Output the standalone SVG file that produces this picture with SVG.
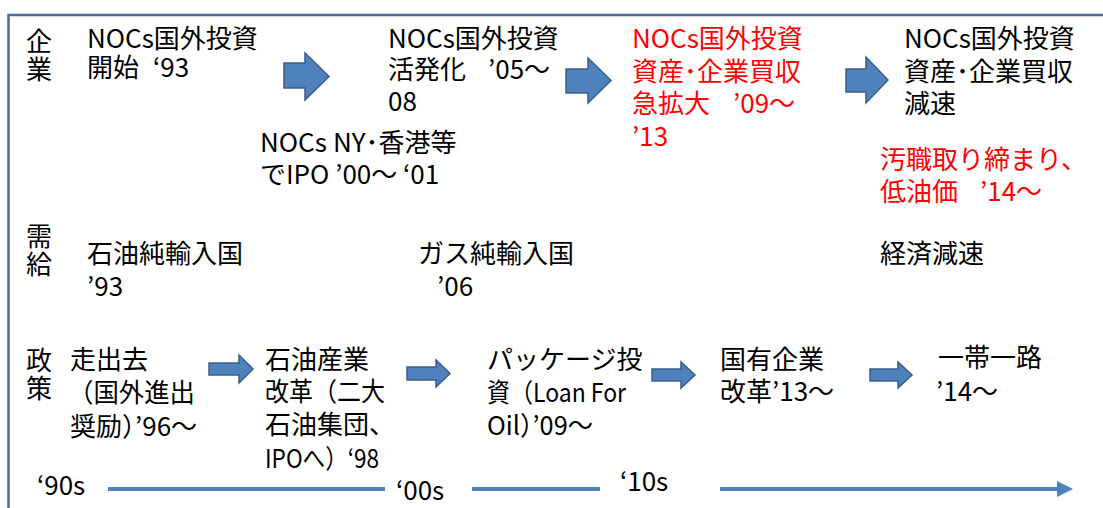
<svg xmlns="http://www.w3.org/2000/svg" width="1103" height="508" viewBox="0 0 1103 508">
<style>
text{font-family:"Noto Sans CJK JP","Noto Sans CJK SC",sans-serif;font-size:26px;fill:#000}
text.red{fill:#ff0000}
text.vert{writing-mode:vertical-rl;letter-spacing:2px}
.big{fill:#4f81bd;stroke:#385d8a;stroke-width:1.5}
.tl{stroke:#4f81bd;stroke-width:4;fill:none}
</style>
<defs>
<marker id="ah" markerWidth="4" markerHeight="4" refX="0" refY="2" orient="auto" markerUnits="strokeWidth">
<path d="M0,0 L4,2 L0,4 Z" fill="#4f81bd"/>
</marker>
</defs>
<rect x="8.5" y="15" width="1120" height="600" fill="none" stroke="#4a6b9a" stroke-width="2.5"/>

<g id="label-kigyo"><text class="vert" x="39" y="28">企業</text></g>
<g id="label-jukyu"><text class="vert" x="39" y="223">需給</text></g>
<g id="label-seisaku"><text class="vert" x="39" y="347">政策</text></g>

<g id="n1"><text x="87" y="48">NOCs国外投資<tspan x="87" dy="29">開始</tspan><tspan x="153">‘93</tspan></text></g>
<g id="n2"><text x="388" y="48">NOCs国外投資<tspan x="388" dy="31">活発化</tspan><tspan x="488">’05～</tspan><tspan x="388" dy="32">08</tspan></text></g>
<g id="n3"><text x="260" y="152">NOCs<tspan x="333">NY･香港等</tspan><tspan x="260" dy="32">でIPO ’00～ ‘01</tspan></text></g>
<g id="n4"><text class="red" x="632" y="48">NOCs国外投資<tspan x="632" dy="33">資産･企業買収</tspan><tspan x="632" dy="32">急拡大</tspan><tspan x="733">’09～</tspan><tspan x="632" dy="33">’13</tspan></text></g>
<g id="n5"><text x="904" y="48">NOCs国外投資<tspan x="904" dy="33">資産･企業買収</tspan><tspan x="904" dy="32">減速</tspan></text></g>
<g id="n6"><text class="red" x="880" y="169">汚職取り締まり、<tspan x="880" dy="32">低油価</tspan><tspan x="980">’14～</tspan></text></g>

<g id="n7"><text x="87" y="263">石油純輸入国<tspan x="87" dy="33">’93</tspan></text></g>
<g id="n8"><text x="418" y="263">ガス純輸入国<tspan x="437" dy="33">’06</tspan></text></g>
<g id="n9"><text x="880" y="263">経済減速</text></g>

<g id="n10"><text x="70" y="369">走出去<tspan x="68" dy="33" textLength="127" lengthAdjust="spacingAndGlyphs">（国外進出</tspan><tspan x="70" dy="34">奨励）’96～</tspan></text></g>
<g id="n11"><text x="265" y="369">石油産業<tspan x="265" dy="32" textLength="120" lengthAdjust="spacingAndGlyphs">改革（二大</tspan><tspan x="265" dy="33">石油集団、</tspan><tspan x="265" dy="34" textLength="114" lengthAdjust="spacingAndGlyphs">IPOへ）‘98</tspan></text></g>
<g id="n12"><text x="487" y="369">パッケージ投<tspan x="487" dy="33" textLength="139" lengthAdjust="spacingAndGlyphs">資（Loan For</tspan><tspan x="487" dy="33" textLength="106" lengthAdjust="spacingAndGlyphs">Oil）’09～</tspan></text></g>
<g id="n13"><text x="720" y="369">国有企業<tspan x="720" dy="32">改革’13～</tspan></text></g>
<g id="n14"><text x="938" y="367">一帯一路<tspan x="936" dy="34">’14～</tspan></text></g>

<g id="timeline">
<text x="37" y="495">‘90s</text>
<text x="396" y="500">‘00s</text>
<text x="620" y="491">‘10s</text>
</g>

<g id="connectors">
<polygon class="big" points="284,63 305,63 305,53 329,76.5 305,100 305,88 284,88"/>
<polygon class="big" points="566,69 588,69 588,58 611,80.5 588,103 588,93 566,93"/>
<polygon class="big" points="846,69 866,69 866,57 888,80 866,103 866,92 846,92"/>
<polygon class="big" points="209,363 239,363 239,355 253,369 239,383 239,375 209,375"/>
<polygon class="big" points="407,367 436,367 436,360 450,373.5 436,387 436,380 407,380"/>
<polygon class="big" points="652,369 681,369 681,362 695,375 681,388 681,381 652,381"/>
<polygon class="big" points="870,369 898,369 898,362 912,375 898,388 898,381 870,381"/>
<line class="tl" x1="108" y1="489" x2="385" y2="489"/>
<line class="tl" x1="472" y1="489" x2="600" y2="489"/>
<line class="tl" x1="720" y1="489" x2="1057" y2="489" marker-end="url(#ah)"/>
</g>
</svg>
